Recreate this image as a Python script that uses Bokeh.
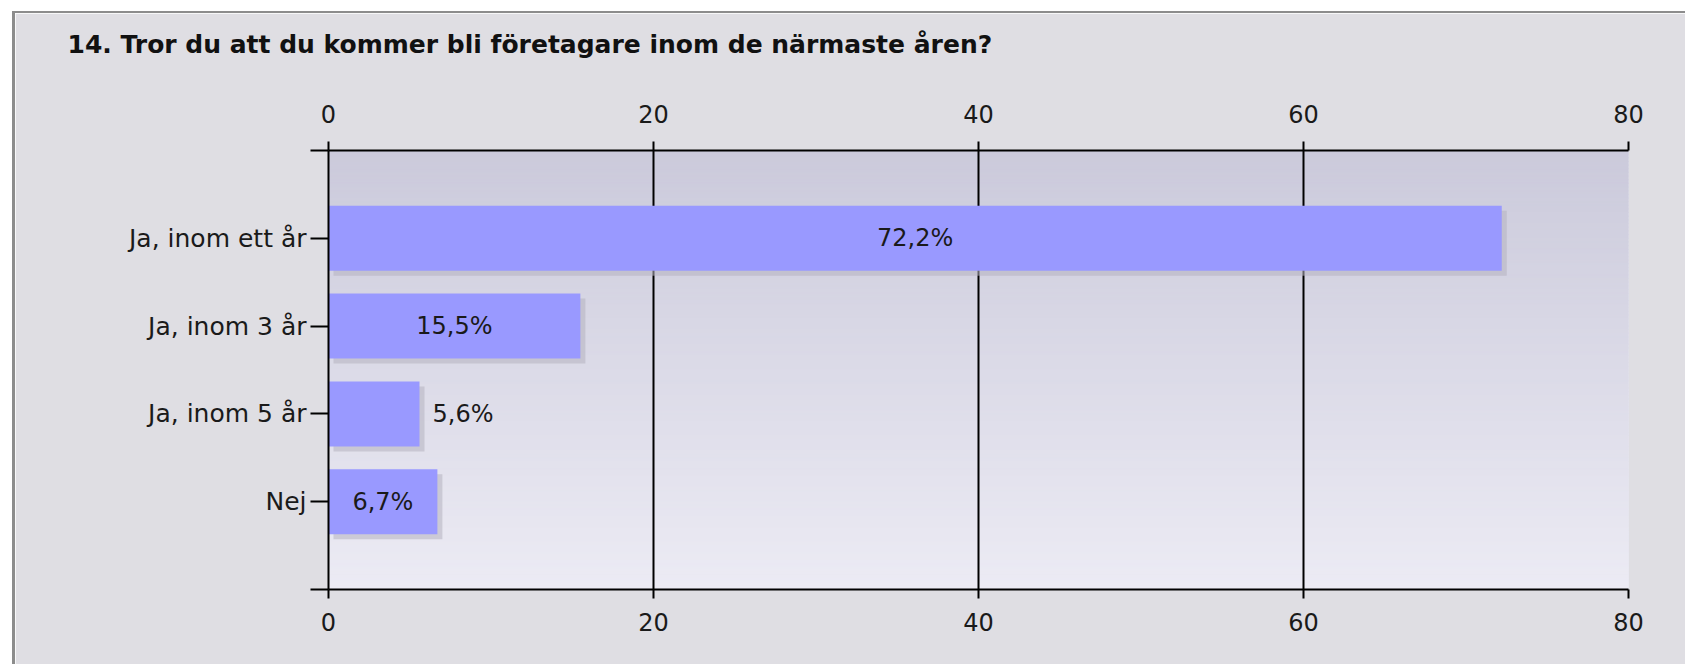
import numpy as np
from bokeh.plotting import figure
from bokeh.models import Range1d, FixedTicker, LinearAxis, ColumnDataSource
from bokeh.core.properties import value
from bokeh.embed import file_html
from bokeh.resources import INLINE

# ---- data ----
title_text = "14. Tror du att du kommer bli företagare inom de närmaste åren?"
categories = ["Ja, inom ett år", "Ja, inom 3 år", "Ja, inom 5 år", "Nej"]
percentages = [72.2, 15.5, 5.6, 6.7]
value_labels = ["72,2%", "15,5%", "5,6%", "6,7%"]
label_inside = [True, True, False, True]
x_ticks = [0, 20, 40, 60, 80]

FONT = "DejaVu Sans"
BG = "#dfdee3"
W, H = 1673, 653
FL, FR, FT, FB = 313, 60, 137, 77   # frame margins inside the canvas

n = len(categories)
ypos = list(range(1, n + 1))

p = figure(width=W, height=H, output_backend="svg", toolbar_location=None,
           x_range=Range1d(0, 80), y_range=Range1d(n + 1, 0),
           x_axis_location=None, y_axis_location=None,
           min_border_left=FL, min_border_right=FR, min_border_top=FT, min_border_bottom=FB)
p.styles = {"margin-left": "12px", "margin-top": "11px",
            "border-left": "3px solid #8c8c8c", "border-top": "2px solid #8c8c8c"}
p.border_fill_color = BG
p.background_fill_color = "#dcdbe8"
p.outline_line_color = None

px_per_x = (W - FL - FR) / 80.0
px_per_y = (H - FT - FB) / (n + 1.0)

# vertical gradient background of the plot area (thin horizontal strips)
strips = 120
edges = np.linspace(0, n + 1, strips + 1)
tt = np.linspace(0, 1, strips)
top = np.array([0xcb, 0xca, 0xdb])
bot = np.array([0xec, 0xeb, 0xf4])
gcols = ["#%02x%02x%02x" % tuple(int(round(c)) for c in (top * (1 - f) + bot * f)) for f in tt]
p.quad(left=0, right=80, top=edges[:-1], bottom=edges[1:], fill_color=gcols,
       line_color=gcols, line_width=1, level="underlay")

# grid
p.xgrid.ticker = FixedTicker(ticks=x_ticks)
p.xgrid.grid_line_color = "#000000"
p.xgrid.grid_line_width = 2
p.xgrid.level = "underlay"
p.ygrid.grid_line_color = None

# shadows + bars
bar_h = 0.74
sx = 5 / px_per_x
sy = 5 / px_per_y
src = ColumnDataSource(dict(y=ypos, v=percentages,
                            sl=[sx] * n, sr=[v + sx for v in percentages],
                            st=[y - bar_h / 2 + sy for y in ypos],
                            sb=[y + bar_h / 2 + sy for y in ypos]))
p.quad(left="sl", right="sr", top="st", bottom="sb", source=src,
       fill_color="#b4b3c0", fill_alpha=0.55, line_color=None)
p.hbar(y="y", right="v", left=0, height=bar_h, source=src,
       fill_color="#9999ff", line_color=None)

# value labels
lx, la, lo = [], [], []
for v, inside in zip(percentages, label_inside):
    if inside:
        lx.append(v / 2); la.append("center"); lo.append(0)
    else:
        lx.append(v); la.append("left"); lo.append(13)
lsrc = ColumnDataSource(dict(x=lx, y=ypos, t=value_labels, a=la, o=lo))
p.text(x="x", y="y", text="t", text_align="a", x_offset="o", source=lsrc,
       text_baseline="middle", text_font=value(FONT), text_font_size="24px",
       text_color="#1a1a1a")

# axes
def style_axis(ax):
    ax.axis_line_color = "#000000"
    ax.axis_line_width = 2
    ax.major_tick_line_color = "#000000"
    ax.major_tick_line_width = 2
    ax.major_tick_in = 0
    ax.minor_tick_line_color = None
    ax.major_label_text_font = FONT
    ax.major_label_text_font_size = "24px"
    ax.major_label_text_color = "#1a1a1a"

for loc, so in (("above", 19), ("below", 14)):
    ax = LinearAxis(ticker=FixedTicker(ticks=x_ticks))
    style_axis(ax)
    ax.major_tick_out = 9
    ax.major_label_standoff = so
    p.add_layout(ax, loc)

yax = LinearAxis(ticker=FixedTicker(ticks=list(range(0, n + 2))))
style_axis(yax)
yax.major_tick_out = 18
yax.major_label_standoff = 4
yax.major_label_text_font_size = "25px"
overrides = {0: "", n + 1: ""}
for y, c in zip(ypos, categories):
    overrides[y] = c
yax.major_label_overrides = overrides
p.add_layout(yax, "left")

# title (an empty second line lifts the visible line within its panel)
p.title.text = title_text + "\n "
p.title.align = "left"
p.title.vertical_align = "top"
p.title.offset = -261
p.title.standoff = 24
p.title.text_font = FONT
p.title.text_font_style = "bold"
p.title.text_font_size = "25px"
p.title.text_color = "#111111"

open("out.html", "w").write(file_html(p, INLINE))
